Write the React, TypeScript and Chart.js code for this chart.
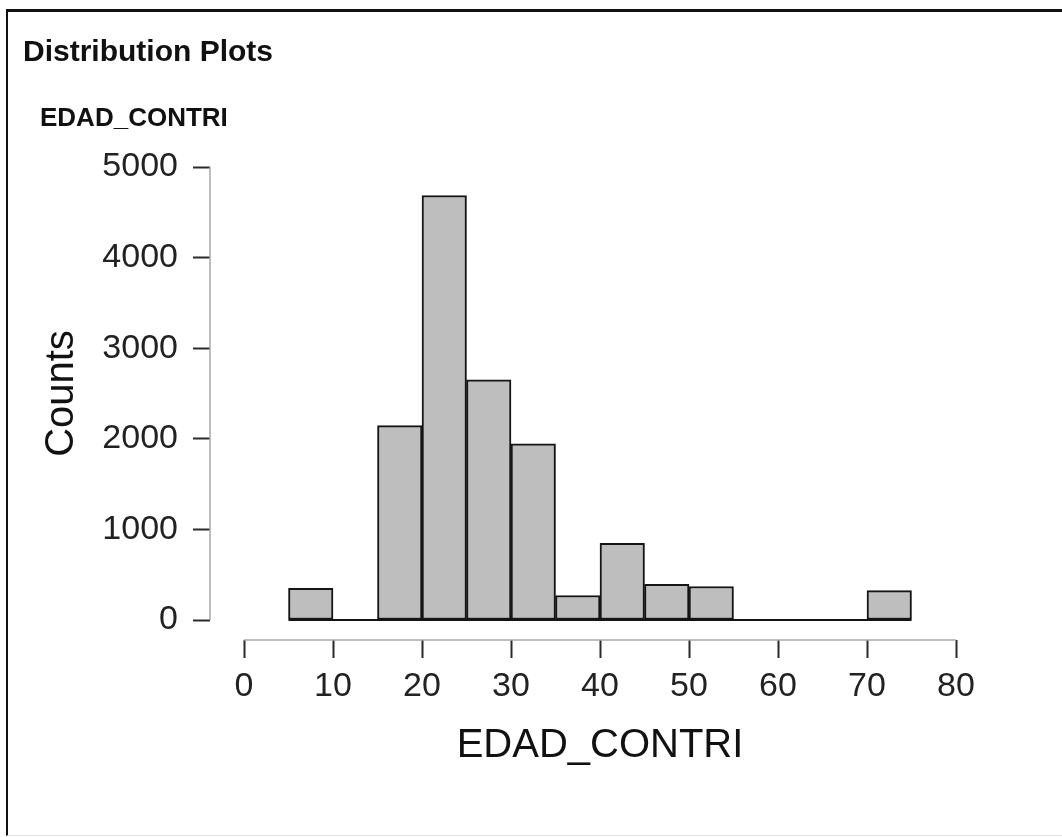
import React, { useEffect, useRef } from "react";
import { Chart, registerables } from "chart.js";

Chart.register(...registerables);

// ---- data ----
const binStarts = [5, 10, 15, 20, 25, 30, 35, 40, 45, 50, 55, 60, 65, 70];
const binWidth = 5;
const counts = [350, 0, 2145, 4685, 2650, 1945, 270, 845, 395, 370, 0, 0, 0, 325];
const xTicks = [0, 10, 20, 30, 40, 50, 60, 70, 80];
const yTicks = [0, 1000, 2000, 3000, 4000, 5000];
const chartTitle = "Distribution Plots";
const variableName = "EDAD_CONTRI";
const yLabel = "Counts";
const xLabel = "EDAD_CONTRI";

// ---- styling constants ----
const W = 1062;
const H = 837;
const FONT = "'Liberation Sans', Arial, Helvetica, sans-serif";
const Y_AXIS_GAP = 34; // distance of y axis line left of plot region
const Y_TICK = 17;
const X_AXIS_GAP = 20; // distance of x axis line below plot region
const X_TICK = 18;

const rAxisLines = {
  id: "rAxisLines",
  afterDraw(chart: any) {
    const { ctx, chartArea, scales } = chart;
    const xs = scales.x;
    const ys = scales.y;
    ctx.save();
    ctx.strokeStyle = "#a8a8a8";
    ctx.lineWidth = 1.5;
    const ax = chartArea.left - Y_AXIS_GAP;
    ctx.beginPath();
    ctx.moveTo(ax, ys.getPixelForValue(yTicks[0]));
    ctx.lineTo(ax, ys.getPixelForValue(yTicks[yTicks.length - 1]));
    ctx.stroke();
    const ay = chartArea.bottom + X_AXIS_GAP;
    ctx.beginPath();
    ctx.moveTo(xs.getPixelForValue(xTicks[0]), ay);
    ctx.lineTo(xs.getPixelForValue(xTicks[xTicks.length - 1]), ay);
    ctx.stroke();
    ctx.restore();
  },
};

export default function App() {
  const ref = useRef<HTMLCanvasElement | null>(null);

  useEffect(() => {
    if (!ref.current) return;
    const barData = binStarts.map((s, i) => ({ x: s + binWidth / 2, y: counts[i] }));
    const baseData = [
      { x: binStarts[0], y: 0 },
      { x: binStarts[binStarts.length - 1] + binWidth, y: 0 },
    ];
    const chart = new Chart(ref.current, {
      type: "bar",
      data: {
        datasets: [
          {
            type: "bar",
            data: barData as any,
            backgroundColor: "#bebebe",
            borderColor: "#151515",
            borderWidth: 2,
            borderSkipped: false,
            barPercentage: 1,
            categoryPercentage: 1,
            order: 1,
          } as any,
          {
            type: "line",
            data: baseData as any,
            borderColor: "#151515",
            borderWidth: 2,
            pointRadius: 0,
            clip: false,
            order: 2,
          } as any,
        ],
      },
      options: {
        responsive: false,
        animation: false,
        devicePixelRatio: 1,
        layout: { padding: { top: 167, right: 106, left: 0, bottom: 0 } },
        plugins: {
          legend: { display: false },
          tooltip: { enabled: false },
          title: { display: false },
        },
        scales: {
          x: {
            type: "linear",
            min: xTicks[0],
            max: xTicks[xTicks.length - 1],
            offset: false,
            afterBuildTicks: (s: any) => {
              s.ticks = xTicks.map((v) => ({ value: v }));
            },
            afterFit: (s: any) => {
              s.height = 217;
            },
            border: { display: false },
            grid: {
              drawOnChartArea: false,
              offset: false,
              drawTicks: true,
              tickLength: X_AXIS_GAP + X_TICK,
              tickColor: "#2a2a2a",
              tickWidth: 2,
              tickBorderDash: [0, X_AXIS_GAP, X_TICK, 1000],
            },
            ticks: {
              color: "#222",
              font: { family: FONT, size: 34 },
              padding: 8,
              maxRotation: 0,
              autoSkip: false,
              callback: (v: any) => String(v),
            },
            title: {
              display: true,
              text: xLabel,
              color: "#111",
              font: { family: FONT, size: 40 },
              padding: { top: 0, bottom: 67 },
            },
          },
          y: {
            type: "linear",
            min: yTicks[0],
            max: yTicks[yTicks.length - 1],
            afterBuildTicks: (s: any) => {
              s.ticks = yTicks.map((v) => ({ value: v }));
            },
            afterFit: (s: any) => {
              s.width = 244;
            },
            border: { display: false },
            grid: {
              drawOnChartArea: false,
              drawTicks: true,
              tickLength: Y_AXIS_GAP + Y_TICK,
              tickColor: "#2a2a2a",
              tickWidth: 2,
              tickBorderDash: [Y_TICK, 1000],
            },
            ticks: {
              color: "#222",
              font: { family: FONT, size: 34 },
              padding: 15,
              autoSkip: false,
              callback: (v: any) => String(v),
            },
            title: {
              display: true,
              text: yLabel,
              color: "#111",
              font: { family: FONT, size: 40 },
              padding: { top: 38, bottom: 0 },
            },
          },
        },
      },
      plugins: [rAxisLines],
    });
    return () => chart.destroy();
  }, []);

  return (
    <div
      style={{
        position: "fixed",
        left: 0,
        top: 0,
        width: W,
        height: H,
        overflow: "hidden",
        background: "#fff",
      }}
    >
      <div
        style={{
          position: "absolute",
          left: 6,
          top: 9,
          width: W + 20,
          height: H - 9 - 1,
          borderTop: "3px solid #111",
          borderLeft: "2px solid #111",
          borderBottom: "1px solid #e4e4e4",
          boxSizing: "border-box",
        }}
      />
      <canvas
        ref={ref}
        width={W}
        height={H}
        style={{ position: "absolute", left: 0, top: 0, width: W, height: H }}
      />
      <div
        style={{
          position: "absolute",
          left: 23,
          top: 36,
          fontFamily: FONT,
          fontWeight: "bold",
          fontSize: 30,
          lineHeight: "30px",
          color: "#111",
          whiteSpace: "nowrap",
        }}
      >
        {chartTitle}
      </div>
      <div
        style={{
          position: "absolute",
          left: 40,
          top: 104,
          fontFamily: FONT,
          fontWeight: "bold",
          fontSize: 26,
          lineHeight: "26px",
          color: "#111",
          whiteSpace: "nowrap",
        }}
      >
        {variableName}
      </div>
    </div>
  );
}
